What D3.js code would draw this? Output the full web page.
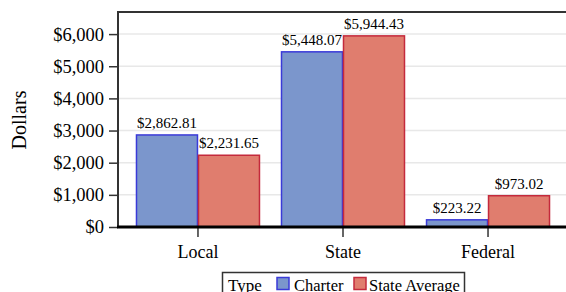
<!DOCTYPE html>
<html><head><meta charset="utf-8">
<script src="https://cdn.jsdelivr.net/npm/d3@7"></script>
<style>body{margin:0;background:#fff}svg{display:block}</style>
</head><body><svg id="c" width="566" height="292" font-family="Liberation Serif, serif"></svg>
<script>
const categories = ["Local", "State", "Federal"];
const seriesNames = ["Charter", "State Average"];
const charterValues = [2862.81, 5448.07, 223.22];
const stateAvgValues = [2231.65, 5944.43, 973.02];
const yTicks = [0, 1000, 2000, 3000, 4000, 5000, 6000];
const fills = ["#7b96cc", "#e07d6e"];
const strokes = ["#3a3ad8", "#c42a3c"];

(function () {
const FONT = "'Liberation Serif', 'DejaVu Serif', serif";
const svg = d3.select("#c");
const pLeft = 118, pTop = 12, pBottom = 227, pRight = 568;
const y = d3.scaleLinear().domain([0, 6687]).range([pBottom, pTop]);
const x = d3.scaleBand().domain(categories).range([pLeft, pRight]).paddingInner(0.145).paddingOuter(0.124);
const xs = d3.scaleBand().domain(seriesNames).range([0, x.bandwidth()]);

svg.append("g").selectAll("line").data(yTicks.filter(d => d > 0)).join("line")
  .attr("x1", pLeft).attr("x2", 566).attr("y1", d => y(d)).attr("y2", d => y(d))
  .attr("stroke", "#e8e8e8").attr("stroke-width", 1.5);

svg.append("line").attr("x1", pLeft).attr("x2", 566).attr("y1", pTop).attr("y2", pTop).attr("stroke", "#333").attr("stroke-width", 2);

const money = d3.format("$,.2f");
const series = [charterValues, stateAvgValues];
seriesNames.forEach((s, si) => {
  const g = svg.append("g");
  g.selectAll("rect").data(categories).join("rect")
    .attr("x", c => x(c) + xs(s) + 0.5)
    .attr("width", xs.bandwidth() - 1)
    .attr("y", (c, i) => y(series[si][i]))
    .attr("height", (c, i) => pBottom - y(series[si][i]))
    .attr("fill", fills[si]).attr("stroke", strokes[si]).attr("stroke-width", 1.5);
  g.selectAll("text").data(categories).join("text")
    .attr("x", c => x(c) + xs(s) + xs.bandwidth() / 2)
    .attr("y", (c, i) => y(series[si][i]) - 7)
    .attr("text-anchor", "middle").attr("font-size", 15)
    .text((c, i) => money(series[si][i]));
});

const ya = svg.append("g").attr("transform", `translate(${pLeft},0)`)
  .call(d3.axisLeft(y).tickValues(yTicks).tickFormat(d3.format("$,")).tickSize(9).tickPadding(5));
ya.attr("font-family", null);
ya.select(".domain").remove();
ya.selectAll(".tick line").attr("stroke", "#333").attr("stroke-width", 1.5);
ya.selectAll("text").attr("font-size", 18.5).attr("fill", "#000");
svg.append("line").attr("x1", pLeft).attr("x2", pLeft).attr("y1", pTop - 1).attr("y2", pBottom).attr("stroke", "#333").attr("stroke-width", 2);

const xa = svg.append("g").attr("transform", `translate(0,${pBottom})`)
  .call(d3.axisBottom(x).tickSize(10).tickPadding(8));
xa.attr("font-family", null);
xa.select(".domain").remove();
xa.selectAll(".tick line").attr("stroke", "#333").attr("stroke-width", 1.5);
xa.selectAll("text").attr("font-size", 18).attr("fill", "#000");
svg.append("line").attr("x1", pLeft - 1).attr("x2", 566).attr("y1", pBottom).attr("y2", pBottom).attr("stroke", "#000").attr("stroke-width", 3);

svg.append("text").attr("transform", "translate(26,120) rotate(-90)").attr("text-anchor", "middle").attr("font-size", 20).text("Dollars");

const lg = svg.append("g");
lg.append("rect").attr("x", 222.5).attr("y", 272.5).attr("width", 242).attr("height", 30).attr("fill", "#fff").attr("stroke", "#333").attr("stroke-width", 1.5);
lg.append("text").attr("x", 228).attr("y", 291).attr("font-size", 17).text("Type");
const lx = [277, 354];
const tx = [294, 369];
seriesNames.forEach((s, i) => {
  lg.append("rect").attr("x", lx[i]).attr("y", 277.5).attr("width", 12).attr("height", 12)
    .attr("fill", fills[i]).attr("stroke", strokes[i]).attr("stroke-width", 1.5);
  lg.append("text").attr("x", tx[i]).attr("y", 291).attr("font-size", 16.5).text(s);
});

svg.selectAll("text").style("font-family", FONT).style("fill", "#000");
})();
</script></body></html>
